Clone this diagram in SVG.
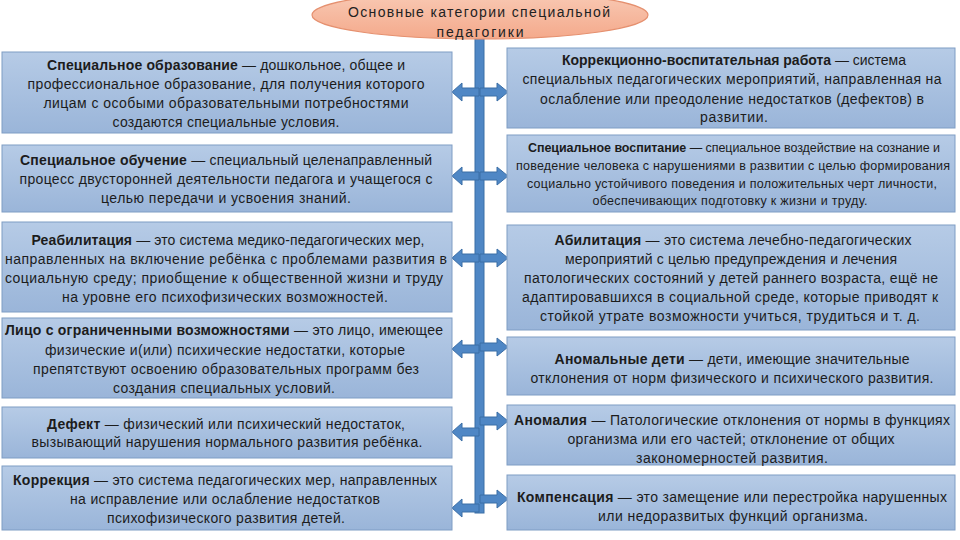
<svg xmlns="http://www.w3.org/2000/svg" xmlns:xlink="http://www.w3.org/1999/xlink" width="960" height="540" viewBox="0 0 960 540">
<style>
.box{fill:url(#bg);stroke:#7f9dc4;stroke-width:1}
.t{font-family:"Liberation Sans","DejaVu Sans",sans-serif;font-size:14px;fill:#1c1c1c;text-anchor:middle}
.s{font-size:12.5px}
.b{font-weight:bold}
.arr{fill:#4f87c5;stroke:#3b6ea6;stroke-width:1}
.h{font-family:"Liberation Sans","DejaVu Sans",sans-serif;font-size:14px;fill:#222;text-anchor:middle}
</style>
<defs>
<linearGradient id="bg" x1="0" y1="0" x2="0" y2="1">
<stop offset="0" stop-color="#b6cbe6"/>
<stop offset="1" stop-color="#9ab5d9"/>
</linearGradient>
<linearGradient id="eg" x1="0" y1="0" x2="0" y2="1">
<stop offset="0" stop-color="#f9cbb6"/>
<stop offset="1" stop-color="#f4a98b"/>
</linearGradient>
<path id="la" d="M452,0 L462,-9 L462,-4 L479,-4 L479,4 L462,4 L462,9 Z"/>
<path id="ra" d="M508,0 L497,-9 L497,-4 L480,-4 L480,4 L497,4 L497,9 Z"/>
</defs>
<rect width="960" height="540" fill="#ffffff"/>

<g id="connectors">
<rect class="arr" x="475" y="30" width="9" height="483"/>
<use href="#la" y="92" class="arr"/>
<use href="#ra" y="92" class="arr"/>
<use href="#la" y="176" class="arr"/>
<use href="#ra" y="176" class="arr"/>
<use href="#la" y="258" class="arr"/>
<use href="#ra" y="258" class="arr"/>
<use href="#la" y="349" class="arr"/>
<use href="#ra" y="347" class="arr"/>
<use href="#la" y="432" class="arr"/>
<use href="#ra" y="421" class="arr"/>
<use href="#la" y="508" class="arr"/>
<use href="#ra" y="499" class="arr"/>
</g>

<g id="header">
<ellipse cx="480" cy="15" rx="168" ry="24" fill="url(#eg)" stroke="#e5906f" stroke-width="1.2"/>
<text class="h" x="479" y="17" textLength="262">Основные категории специальной</text>
<text class="h" x="480" y="37" textLength="87">педагогики</text>
</g>

<g id="l1">
<rect class="box" x="2" y="52" width="450" height="81"/>
<text class="t" x="226" y="70" textLength="358"><tspan class="b">Специальное образование</tspan> — дошкольное, общее и</text>
<text class="t" x="226" y="89" textLength="397">профессиональное образование, для получения которого</text>
<text class="t" x="226" y="108" textLength="365">лицам с особыми образовательными потребностями</text>
<text class="t" x="226" y="127" textLength="227">создаются специальные условия.</text>
</g>

<g id="l2">
<rect class="box" x="2" y="145" width="450" height="67"/>
<text class="t" x="226" y="165" textLength="412"><tspan class="b">Специальное обучение</tspan> — специальный целенаправленный</text>
<text class="t" x="226" y="184" textLength="413">процесс двусторонней деятельности педагога и учащегося с</text>
<text class="t" x="226" y="203" textLength="250">целью передачи и усвоения знаний.</text>
</g>

<g id="l3">
<rect class="box" x="2" y="222" width="450" height="90"/>
<text class="t" x="228" y="245" textLength="393"><tspan class="b">Реабилитация</tspan> — это система медико-педагогических мер,</text>
<text class="t" x="226" y="264" textLength="442">направленных на включение ребёнка с проблемами развития в</text>
<text class="t" x="224" y="283" textLength="438">социальную среду; приобщение к общественной жизни и труду</text>
<text class="t" x="225" y="302" textLength="326">на уровне его психофизических возможностей.</text>
</g>

<g id="l4">
<rect class="box" x="2" y="318" width="450" height="80"/>
<text class="t" x="224" y="335" textLength="438"><tspan class="b">Лицо с ограниченными возможностями</tspan> — это лицо, имеющее</text>
<text class="t" x="225" y="355" textLength="360">физические и(или) психические недостатки, которые</text>
<text class="t" x="226" y="374" textLength="386">препятствуют освоению образовательных программ без</text>
<text class="t" x="224" y="393" textLength="222">создания специальных условий.</text>
</g>

<g id="l5">
<rect class="box" x="2" y="407" width="450" height="51"/>
<text class="t" x="226" y="429" textLength="358"><tspan class="b">Дефект</tspan> — физический или психический недостаток,</text>
<text class="t" x="227" y="447" textLength="391">вызывающий нарушения нормального развития ребёнка.</text>
</g>

<g id="l6">
<rect class="box" x="2" y="466" width="450" height="64"/>
<text class="t" x="225" y="485" textLength="424"><tspan class="b">Коррекция</tspan> — это система педагогических мер, направленных</text>
<text class="t" x="225" y="504" textLength="310">на исправление или ослабление недостатков</text>
<text class="t" x="226" y="523" textLength="238">психофизического развития детей.</text>
</g>

<g id="r1">
<rect class="box" x="507" y="48" width="448" height="80"/>
<text class="t" x="734" y="65" textLength="344"><tspan class="b">Коррекционно-воспитательная работа</tspan> — система</text>
<text class="t" x="732" y="84" textLength="419">специальных педагогических мероприятий, направленная на</text>
<text class="t" x="732" y="104" textLength="384">ослабление или преодоление недостатков (дефектов) в</text>
<text class="t" x="734" y="122" textLength="68">развитии.</text>
</g>

<g id="r2">
<rect class="box" x="507" y="135" width="448" height="77"/>
<text class="t s" x="734" y="152" textLength="412"><tspan class="b">Специальное воспитание</tspan> — специальное воздействие на сознание и</text>
<text class="t s" x="733" y="170" textLength="434">поведение человека с нарушениями в развитии с целью формирования</text>
<text class="t s" x="732" y="188" textLength="410">социально устойчивого поведения и положительных черт личности,</text>
<text class="t s" x="730" y="205" textLength="275">обеспечивающих подготовку к жизни и труду.</text>
</g>

<g id="r3">
<rect class="box" x="507" y="225" width="448" height="105"/>
<text class="t" x="733" y="245" textLength="357"><tspan class="b">Абилитация</tspan> — это система лечебно-педагогических</text>
<text class="t" x="731" y="264" textLength="332">мероприятий с целью предупреждения и лечения</text>
<text class="t" x="731" y="283" textLength="414">патологических состояний у детей раннего возраста, ещё не</text>
<text class="t" x="730" y="302" textLength="416">адаптировавшихся в социальной среде, которые приводят к</text>
<text class="t" x="730" y="321" textLength="380">стойкой утрате возможности учиться, трудиться и т. д.</text>
</g>

<g id="r4">
<rect class="box" x="507" y="337" width="448" height="58"/>
<text class="t" x="732" y="364" textLength="355"><tspan class="b">Аномальные дети</tspan> — дети, имеющие значительные</text>
<text class="t" x="732" y="383" textLength="403">отклонения от норм физического и психического развития.</text>
</g>

<g id="r5">
<rect class="box" x="507" y="405" width="448" height="60"/>
<text class="t" x="732" y="425" textLength="436"><tspan class="b">Аномалия</tspan> — Патологические отклонения от нормы в функциях</text>
<text class="t" x="731" y="444" textLength="327">организма или его частей; отклонение от общих</text>
<text class="t" x="732" y="463" textLength="192">закономерностей развития.</text>
</g>

<g id="r6">
<rect class="box" x="507" y="475" width="448" height="55"/>
<text class="t" x="732" y="502" textLength="430"><tspan class="b">Компенсация</tspan> — это замещение или перестройка нарушенных</text>
<text class="t" x="733" y="521" textLength="270">или недоразвитых функций организма.</text>
</g>
</svg>
